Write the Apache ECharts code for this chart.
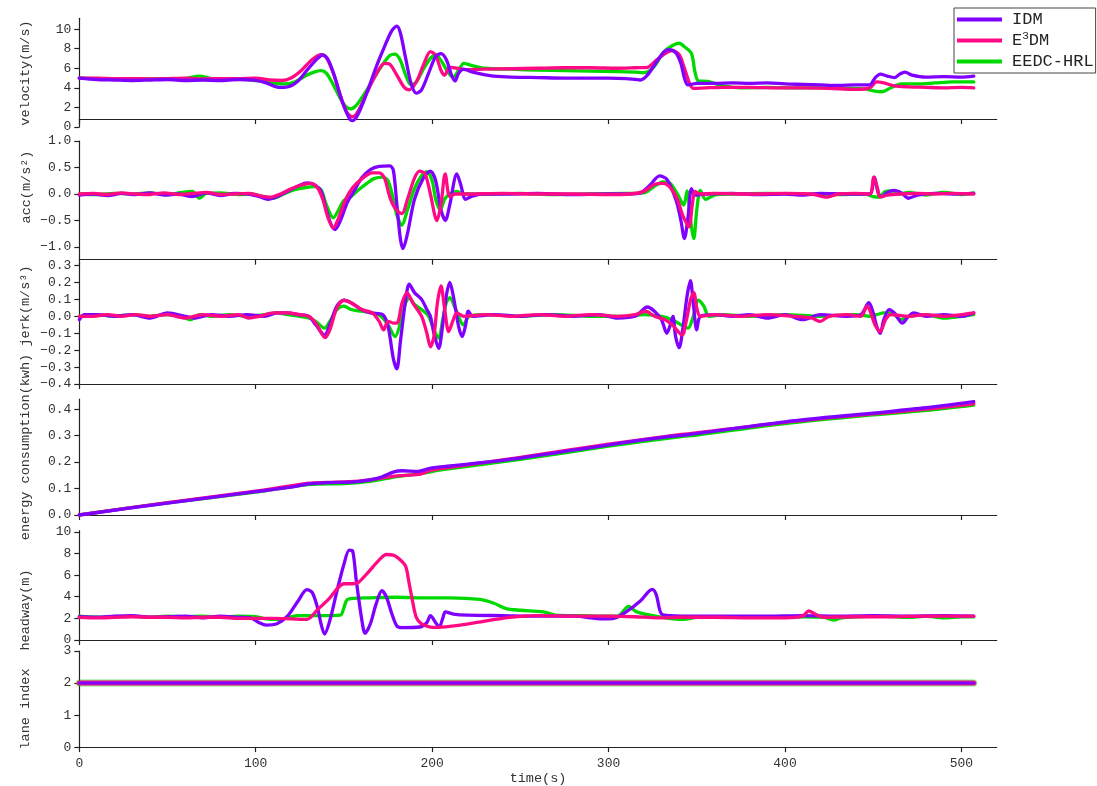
<!DOCTYPE html>
<html>
<head>
<meta charset="utf-8">
<script src="https://cdn.jsdelivr.net/npm/echarts@6/dist/echarts.min.js"></script>
<style>
  html, body { margin: 0; padding: 0; background: #fff; overflow: hidden; }
  #chart { width: 1097px; height: 786px; }
</style>
</head>
<body>
<div id="chart"></div>
<script>
// ---- series names ----
const seriesNames = ['IDM', 'E3DM', 'EEDC-HRL'];

// ---- velocity (m/s): [time, value] ----
const velIDM = [[0,5.0],[10,4.85],[20,4.8],[30,4.75],[40,4.8],[50,4.85],[60,4.75],[70,4.8],[80,4.75],[90,4.85],[100,4.75],[106,4.5],[113,4.05],[118,4.1],[124,4.7],[130,6.0],[135,7.0],[138,7.35],[141,6.9],[145,5.0],[149,2.6],[153,0.9],[155,0.65],[158,1.3],[163,3.5],[168,6.0],[173,8.2],[177,9.8],[180,10.3],[182,9.6],[185,7.0],[188,4.5],[191,3.45],[194,3.8],[198,5.5],[202,7.2],[205,7.5],[208,6.9],[211,5.3],[213,4.7],[215,5.5],[218,5.9],[222,5.65],[228,5.4],[235,5.2],[245,5.1],[260,5.05],[275,5.0],[290,5.0],[300,5.0],[310,4.95],[318,4.8],[322,5.3],[327,6.6],[331,7.6],[334,7.9],[338,7.6],[341,6.5],[343,5.0],[345,4.3],[350,4.45],[360,4.45],[370,4.5],[380,4.45],[390,4.5],[400,4.4],[410,4.35],[420,4.3],[430,4.25],[440,4.3],[448,4.3],[451,5.0],[454,5.4],[458,5.2],[462,5.05],[465,5.4],[468,5.6],[472,5.3],[480,5.1],[490,5.15],[500,5.1],[507,5.2]];
const velE3DM = [[0,5.0],[10,5.0],[20,4.95],[30,4.95],[40,4.9],[50,4.95],[60,5.0],[70,4.9],[80,4.95],[90,4.95],[100,5.0],[108,4.8],[115,4.75],[120,5.0],[126,5.8],[132,6.9],[137,7.4],[140,7.1],[144,5.5],[148,3.2],[152,1.4],[155,1.05],[158,1.6],[163,3.5],[168,5.3],[173,6.5],[176,6.4],[180,5.3],[184,4.1],[187,3.8],[191,4.6],[195,6.3],[199,7.7],[202,7.3],[205,5.8],[207,5.3],[210,6.1],[214,6.0],[220,5.85],[230,5.9],[245,5.95],[260,6.0],[275,6.05],[290,6.05],[305,6.0],[315,6.05],[322,6.1],[327,6.8],[332,7.5],[336,7.8],[340,7.4],[343,6.0],[346,4.4],[348,3.95],[355,4.0],[365,4.05],[380,4.05],[395,4.0],[410,4.0],[425,3.95],[440,3.85],[448,4.0],[452,4.6],[456,4.5],[462,4.2],[470,4.1],[480,4.05],[490,4.0],[500,4.05],[507,4.0]];
const velHRL = [[0,5.0],[10,4.95],[20,4.9],[30,4.95],[40,4.9],[50,4.9],[60,4.95],[68,5.2],[75,4.95],[85,4.9],[95,4.85],[102,4.7],[110,4.45],[116,4.4],[122,4.6],[128,5.2],[133,5.6],[137,5.75],[140,5.5],[144,4.3],[148,2.9],[151,2.1],[154,1.85],[157,2.2],[162,3.5],[167,5.0],[172,6.4],[176,7.3],[179,7.45],[182,6.8],[185,5.3],[188,4.3],[191,4.6],[195,5.9],[199,7.0],[202,7.35],[205,6.8],[209,5.6],[212,5.1],[215,5.8],[218,6.5],[222,6.3],[230,6.0],[245,5.9],[260,5.8],[275,5.75],[290,5.7],[305,5.65],[315,5.6],[320,5.55],[326,6.2],[331,7.6],[336,8.3],[340,8.55],[343,8.2],[347,7.5],[349,5.6],[351,4.7],[356,4.65],[365,4.2],[375,4.0],[390,4.05],[405,4.0],[420,4.0],[435,3.95],[445,3.9],[450,3.7],[455,3.6],[460,4.0],[466,4.4],[475,4.4],[485,4.5],[495,4.6],[507,4.6]];

// ---- acceleration (m/s^2) ----
const accIDM = [[0,-0.02],[8,0.0],[16,-0.03],[24,0.01],[32,-0.01],[40,0.02],[48,-0.02],[56,0.0],[64,-0.05],[72,0.02],[80,-0.03],[88,0.01],[96,0.0],[102,-0.05],[107,-0.1],[112,-0.05],[118,0.05],[124,0.15],[129,0.21],[133,0.18],[137,0.05],[140,-0.3],[143,-0.6],[145,-0.67],[148,-0.5],[152,-0.15],[156,0.07],[160,0.3],[165,0.46],[170,0.52],[176,0.53],[178,0.45],[180,-0.2],[182,-0.85],[183.5,-1.03],[186,-0.75],[190,-0.1],[195,0.3],[199,0.43],[202,0.25],[205,-0.3],[207.5,-0.5],[210,-0.2],[214,0.38],[216,0.2],[219,-0.1],[222,-0.05],[228,0.0],[240,0.0],[260,0.01],[280,-0.01],[300,0.0],[312,0.0],[318,0.02],[323,0.15],[329,0.34],[333,0.28],[337,0.0],[339,-0.2],[341,-0.5],[343,-0.84],[345,-0.45],[347,0.1],[349,-0.02],[355,0.0],[370,0.01],[385,-0.01],[400,0.0],[410,-0.02],[420,0.01],[435,0.0],[448,0.0],[450.5,0.32],[453,0.0],[455,-0.05],[458,0.03],[462,0.07],[466,0.02],[470,-0.08],[475,-0.02],[485,0.01],[495,0.0],[507,0.01]];
const accE3DM = [[0,0.0],[8,0.01],[16,-0.01],[24,0.02],[32,0.0],[40,-0.01],[48,0.02],[56,-0.01],[64,0.01],[72,0.03],[80,-0.01],[88,0.0],[96,0.01],[102,-0.03],[108,-0.06],[114,0.0],[120,0.1],[126,0.17],[131,0.2],[135,0.12],[138,-0.1],[141,-0.45],[144,-0.64],[147,-0.45],[151,-0.1],[155,0.12],[160,0.28],[166,0.4],[170,0.4],[173,0.3],[176,-0.06],[179,-0.27],[182.8,-0.37],[186,-0.1],[190,0.3],[193,0.43],[196,0.38],[199,0.0],[202.7,-0.5],[205,-0.2],[207.4,0.38],[210,-0.05],[213,0.0],[220,0.0],[240,0.01],[260,0.0],[280,0.0],[300,-0.01],[312,0.0],[320,0.05],[326,0.18],[331,0.2],[335,0.12],[339,-0.1],[342,-0.4],[345.5,-0.62],[347.5,-0.2],[349,0.05],[352,0.0],[360,0.01],[380,0.0],[400,0.01],[415,0.0],[424,-0.06],[430,0.0],[440,0.01],[448,0.0],[450.4,0.32],[452.5,0.1],[454,-0.06],[458,-0.02],[465,0.0],[475,0.01],[485,0.0],[495,0.01],[507,0.0]];
const accHRL = [[0,0.0],[10,-0.01],[20,0.01],[30,0.0],[40,0.02],[50,-0.01],[58,0.03],[64,0.05],[68,-0.08],[72,0.01],[80,0.02],[90,-0.01],[98,0.0],[104,-0.05],[110,-0.08],[116,0.0],[122,0.08],[128,0.12],[133,0.14],[137,0.08],[140,-0.2],[144,-0.45],[147,-0.3],[150,-0.12],[154,-0.05],[158,0.07],[163,0.2],[167,0.29],[172,0.32],[175,0.25],[178,-0.1],[180,-0.4],[182.8,-0.59],[186,-0.3],[190,0.1],[194,0.35],[197,0.42],[200,0.25],[202,-0.1],[204.6,-0.3],[207,-0.1],[210,0.0],[214,0.05],[218,0.0],[230,0.0],[250,0.01],[270,-0.01],[290,0.0],[310,0.01],[320,0.02],[325,0.12],[331,0.23],[335,0.2],[339,0.0],[342.6,-0.21],[344.5,0.06],[346.5,-0.5],[348.3,-0.84],[350,-0.3],[352,0.07],[355,-0.1],[360,-0.02],[370,0.0],[390,0.01],[410,0.0],[430,-0.01],[445,0.0],[450,-0.05],[453,-0.06],[457,0.05],[461,0.06],[465,0.0],[470,0.03],[480,-0.02],[490,0.03],[500,-0.01],[507,0.02]];

// ---- jerk (m/s^3) ----
const jerkIDM = [[0,-0.02],[3,0.01],[10,0.01],[20,0.0],[30,0.01],[40,-0.01],[50,0.02],[60,0.0],[65,-0.01],[75,0.01],[85,0.0],[95,0.01],[105,0.0],[112,0.02],[118,0.02],[124,0.01],[130,0.0],[134,-0.05],[139,-0.11],[142,-0.05],[146,0.06],[150,0.095],[154,0.08],[160,0.04],[165,0.02],[172,0.01],[175,-0.06],[178,-0.25],[180,-0.31],[182,-0.15],[185,0.1],[187,0.19],[190,0.14],[194,0.1],[197,0.04],[199,0.0],[201,-0.1],[203.7,-0.19],[206,-0.05],[208,0.12],[210,0.2],[212,0.12],[215,-0.06],[217,-0.12],[219,-0.05],[220.5,0.03],[223,0.0],[235,0.01],[250,0.0],[265,0.01],[280,0.0],[295,0.01],[305,-0.01],[315,0.0],[322,0.055],[326,0.03],[330,-0.02],[333,-0.1],[335,-0.05],[336.5,0.0],[338,-0.12],[340,-0.185],[342,-0.08],[344.5,0.12],[346.4,0.21],[348,0.08],[350,-0.08],[352,0.0],[360,0.01],[370,0.0],[380,0.01],[390,-0.01],[400,0.01],[410,-0.02],[420,0.01],[435,0.0],[443,0.01],[447.5,0.08],[450,0.02],[452,-0.06],[454,-0.1],[456,-0.02],[459,0.04],[462,0.02],[466.5,-0.04],[470,0.0],[473,0.02],[480,0.0],[490,0.01],[500,0.0],[507,0.02]];
const jerkE3DM = [[0,0.0],[8,0.0],[16,0.01],[24,0.0],[32,0.01],[40,0.0],[50,0.01],[60,-0.01],[70,0.01],[80,0.0],[90,0.01],[96,-0.01],[102,0.0],[110,0.02],[118,0.02],[125,0.01],[130,0.0],[134,-0.04],[139.4,-0.126],[142,-0.08],[146,0.05],[150,0.095],[154,0.08],[160,0.04],[166,0.02],[170,-0.03],[172.5,-0.08],[175,-0.03],[178,-0.04],[180,-0.04],[183,0.08],[185.7,0.14],[189,0.08],[194,0.0],[197,-0.1],[199,-0.18],[201,-0.12],[203,0.08],[205,0.18],[207,0.05],[209.4,-0.09],[212,-0.02],[214,0.02],[218,0.0],[230,0.01],[245,0.0],[260,0.01],[275,0.0],[290,0.01],[305,0.0],[315,0.01],[321,0.03],[326,0.0],[332,-0.02],[336,-0.05],[341.7,-0.11],[344,-0.03],[346.5,0.1],[348.3,0.14],[350,0.05],[352,0.0],[360,0.01],[375,0.0],[390,0.01],[405,0.0],[415,-0.01],[420,-0.03],[425,0.0],[435,0.01],[443,0.0],[446.6,0.06],[449,0.01],[451,-0.05],[454,-0.09],[457,-0.02],[460,0.01],[470,0.0],[480,0.01],[490,0.0],[500,0.01],[507,0.02]];
const jerkHRL = [[0,0.0],[10,0.01],[20,0.0],[30,0.01],[40,0.0],[50,0.01],[58,0.0],[63,-0.02],[68,0.01],[75,0.0],[85,0.01],[95,0.0],[105,0.01],[112,0.02],[118,0.01],[125,0.0],[130,-0.01],[134,-0.03],[139,-0.07],[142,-0.03],[146,0.04],[150,0.06],[154,0.04],[160,0.03],[166,0.02],[171,0.0],[175,-0.05],[179,-0.12],[182,-0.04],[185,0.08],[187,0.11],[190,0.07],[194,0.04],[198,0.0],[201,-0.08],[203.7,-0.13],[206,-0.02],[208,0.08],[210,0.11],[213,0.05],[217.8,-0.05],[221,0.0],[230,0.01],[250,0.0],[270,0.01],[290,0.0],[310,0.0],[320,0.01],[330,0.0],[336,-0.02],[341,-0.05],[345,-0.07],[348,0.0],[351,0.095],[354,0.06],[357,0.0],[365,0.01],[380,0.0],[400,0.01],[420,0.0],[440,0.01],[448,0.0],[452,0.01],[456,0.02],[460,0.02],[466,-0.02],[470,0.0],[480,0.01],[490,-0.01],[500,0.0],[507,0.01]];

// ---- energy consumption (kwh) ----
const energyIDM = [[0,0],[50,0.045],[100,0.088],[120,0.105],[130,0.118],[140,0.122],[158,0.126],[170,0.14],[178,0.162],[183,0.167],[192,0.165],[200,0.178],[210,0.185],[250,0.215],[300,0.265],[335,0.297],[345,0.303],[400,0.352],[450,0.385],[480,0.405],[507,0.428]];
const energyE3DM = [[0,0],[50,0.047],[100,0.09],[130,0.12],[140,0.123],[158,0.128],[170,0.138],[180,0.148],[192,0.153],[200,0.17],[210,0.18],[250,0.218],[300,0.268],[340,0.303],[346,0.307],[400,0.35],[450,0.382],[480,0.4],[507,0.42]];
const energyHRL = [[0,0],[50,0.046],[100,0.086],[130,0.115],[150,0.119],[165,0.127],[180,0.145],[195,0.158],[205,0.17],[250,0.21],[300,0.26],[340,0.295],[350,0.302],[400,0.345],[450,0.378],[480,0.395],[507,0.415]];

// ---- headway (m) ----
const headIDM = [[0,2.15],[10,2.1],[20,2.2],[30,2.25],[40,2.1],[50,2.15],[60,2.2],[70,2.05],[80,2.2],[90,2.1],[97,2.05],[102,1.6],[106,1.38],[112,1.5],[118,2.2],[124,3.6],[129,4.65],[132,4.4],[135,3.0],[137,1.5],[139,0.55],[142,1.8],[146,4.5],[150,7.0],[153,8.3],[155,8.2],[157,5.5],[160,2.0],[162,0.62],[165,1.5],[168,3.2],[171.5,4.55],[174,4.0],[177,2.5],[180,1.3],[183,1.15],[193,1.2],[197,1.6],[199,2.25],[202,1.6],[204,1.2],[206,2.0],[207.5,2.6],[212,2.4],[220,2.3],[240,2.25],[260,2.2],[280,2.2],[297,1.95],[303,2.0],[310,2.6],[318,3.6],[324.7,4.68],[327,4.2],[330,2.4],[335,2.25],[350,2.2],[370,2.2],[390,2.2],[410,2.25],[430,2.2],[450,2.25],[470,2.2],[490,2.25],[507,2.2]];
const headE3DM = [[0,2.1],[10,2.05],[20,2.1],[30,2.15],[40,2.1],[50,2.1],[60,2.05],[70,2.1],[80,2.1],[90,2.0],[100,2.0],[110,2.0],[120,1.95],[129,1.9],[135,2.8],[142,3.9],[147,4.9],[150,5.2],[155,5.2],[158,5.3],[164,6.3],[170,7.4],[174,7.9],[178,7.85],[182,7.4],[185,6.8],[187,5.2],[189,3.5],[191,2.1],[194,1.5],[199,1.2],[203,1.17],[215,1.35],[230,1.75],[244,2.1],[260,2.25],[280,2.2],[300,2.2],[315,2.15],[328,2.05],[340,2.1],[360,2.1],[380,2.05],[400,2.05],[410,2.2],[413.5,2.7],[417,2.4],[422,2.1],[440,2.15],[460,2.15],[480,2.2],[507,2.2]];
const headHRL = [[0,2.2],[10,2.1],[20,2.15],[30,2.2],[40,2.1],[50,2.2],[60,2.15],[70,2.2],[80,2.1],[90,2.2],[100,2.15],[106,1.95],[112,1.9],[118,2.05],[124,2.25],[135,2.25],[148,2.3],[150,3.0],[151.7,3.7],[155,3.85],[165,3.9],[180,3.95],[195,3.9],[210,3.9],[227,3.75],[235,3.4],[242,2.9],[250,2.75],[263,2.6],[270,2.3],[285,2.25],[300,2.2],[305,2.2],[311.4,3.1],[316,2.6],[325,2.25],[342.6,1.9],[350,2.1],[370,2.15],[390,2.1],[410,2.15],[422,2.1],[427.5,1.85],[432,2.05],[440,2.15],[455,2.2],[470,2.1],[480,2.2],[490,2.05],[500,2.15],[507,2.15]];

// ---- lane index ----
const laneIDM = [[0,2],[507,2]];
const laneE3DM = [[0,2],[507,2]];
const laneHRL = [[0,2],[507,2]];

// ---- tick values ----
const timeTicks = [0, 100, 200, 300, 400, 500];
const velTicks = [0, 2, 4, 6, 8, 10];
const accTicks = [-1.0, -0.5, 0.0, 0.5, 1.0];
const jerkTicks = [-0.4, -0.3, -0.2, -0.1, 0.0, 0.1, 0.2, 0.3];
const energyTicks = [0.0, 0.1, 0.2, 0.3, 0.4];
const headTicks = [0, 2, 4, 6, 8, 10];
const laneTicks = [0, 1, 2, 3];

// ---- styling ----
const COLORS = { 'IDM': '#8000ff', 'E3DM': '#ff0a84', 'EEDC-HRL': '#00d900' };
const FONT = "'Liberation Mono', 'DejaVu Sans Mono', monospace";
const AXIS_COLOR = '#222';
const TEXT_COLOR = '#333';
const PLOT_LEFT = 79.3;
const PLOT_RIGHT = 1097 - 996.7;
const CHART_H = 786;

// panel layout: top / bottom edge in px, y range
const panels = [
  { key: 'vel',    top: 18.3,  bottom: 127,   min: 0,     max: 11.1,  ticks: velTicks,    dec: 0, xline: false },
  { key: 'acc',    top: 141,   bottom: 259.7, min: -1.24, max: 1.0,   ticks: accTicks,    dec: 1, xline: true },
  { key: 'jerk',   top: 263,   bottom: 384,   min: -0.4,  max: 0.315, ticks: jerkTicks,   dec: 1, xline: true },
  { key: 'energy', top: 399,   bottom: 515,   min: 0,     max: 0.438, ticks: energyTicks, dec: 1, xline: true },
  { key: 'head',   top: 530.7, bottom: 640,   min: 0,     max: 10.1,  ticks: headTicks,   dec: 0, xline: true },
  { key: 'lane',   top: 651,   bottom: 750.7, min: 0,     max: 3,     ticks: laneTicks,   dec: 0, xline: true }
];

const panelData = {
  vel:    { 'IDM': velIDM,    'E3DM': velE3DM,    'EEDC-HRL': velHRL,    order: ['EEDC-HRL', 'E3DM', 'IDM'] },
  acc:    { 'IDM': accIDM,    'E3DM': accE3DM,    'EEDC-HRL': accHRL,    order: ['EEDC-HRL', 'IDM', 'E3DM'] },
  jerk:   { 'IDM': jerkIDM,   'E3DM': jerkE3DM,   'EEDC-HRL': jerkHRL,   order: ['EEDC-HRL', 'IDM', 'E3DM'] },
  energy: { 'IDM': energyIDM, 'E3DM': energyE3DM, 'EEDC-HRL': energyHRL, order: ['EEDC-HRL', 'E3DM', 'IDM'] },
  head:   { 'IDM': headIDM,   'E3DM': headE3DM,   'EEDC-HRL': headHRL,   order: ['EEDC-HRL', 'IDM', 'E3DM'] },
  lane:   { 'IDM': laneIDM,   'E3DM': laneE3DM,   'EEDC-HRL': laneHRL,   order: ['EEDC-HRL', 'E3DM', 'IDM'] }
};

const fmt = (v, dec) => {
  const s = Math.abs(v).toFixed(dec);
  return (v < -1e-9 ? '\u2212' : '') + s;
};

const grids = [], xAxes = [], yAxes = [], series = [];

panels.forEach((p, i) => {
  const isLast = i === panels.length - 1;
  grids.push({ left: PLOT_LEFT, right: PLOT_RIGHT, top: p.top, bottom: CHART_H - p.bottom, containLabel: false });
  xAxes.push({
    type: 'value', gridIndex: i, min: 0, max: 520,
    axisLine: { show: p.xline, onZero: false, lineStyle: { color: AXIS_COLOR, width: 1.2 } },
    axisTick: { show: p.xline, customValues: timeTicks, length: 5, inside: false, lineStyle: { color: AXIS_COLOR, width: 1.2 } },
    axisLabel: {
      show: isLast, customValues: timeTicks, margin: 10,
      color: TEXT_COLOR, fontFamily: FONT, fontSize: 13
    },
    splitLine: { show: false },
    name: isLast ? 'time(s)' : '',
    nameLocation: 'middle', nameGap: 18,
    nameTextStyle: { color: TEXT_COLOR, fontFamily: FONT, fontSize: 13.5 }
  });
  yAxes.push({
    type: 'value', gridIndex: i, min: p.min, max: p.max, position: 'left',
    axisLine: { show: true, onZero: false, lineStyle: { color: AXIS_COLOR, width: 1.2 } },
    axisTick: { show: true, customValues: p.ticks, length: 5, inside: false, lineStyle: { color: AXIS_COLOR, width: 1.2 } },
    axisLabel: {
      customValues: p.ticks, margin: 8, color: TEXT_COLOR, fontFamily: FONT, fontSize: 13,
      formatter: (v) => fmt(v, p.dec)
    },
    splitLine: { show: false }
  });
  const d = panelData[p.key];
  d.order.forEach((name) => {
    const isLane = p.key === 'lane';
    let width = 3.3, opacity = 1;
    if (isLane) {
      if (name === 'EEDC-HRL') { width = 7; opacity = 0.5; }
      else if (name === 'E3DM') { width = 5; }
      else { width = 3; }
    }
    series.push({
      name, type: 'line', xAxisIndex: i, yAxisIndex: i,
      data: d[name], showSymbol: false, symbol: 'none',
      smooth: 0.3, animation: false,
      lineStyle: { color: COLORS[name], width, opacity, cap: 'round', join: 'round' },
      itemStyle: { color: COLORS[name] }
    });
  });
});

// bottom spine of the velocity panel, which sits slightly above its y=0
const spineIdx = panels.length;
grids.push({ left: PLOT_LEFT, right: PLOT_RIGHT, top: 100, bottom: CHART_H - 119 });
xAxes.push({
  type: 'value', gridIndex: spineIdx, min: 0, max: 520,
  axisLine: { show: true, onZero: false, lineStyle: { color: AXIS_COLOR, width: 1.2 } },
  axisTick: { show: true, customValues: timeTicks, length: 5, lineStyle: { color: AXIS_COLOR, width: 1.2 } },
  axisLabel: { show: false }, splitLine: { show: false }
});
yAxes.push({ type: 'value', gridIndex: spineIdx, min: 0, max: 1, show: false });

// rotated y-axis titles
const yTitles = [
  { text: 'velocity(m/s)', x: 25, y: 73 },
  { text: 'acc(m/s\u00b2)', x: 26, y: 187 },
  { text: 'jerk(m/s\u00b3)', x: 25, y: 306 },
  { text: 'energy consumption(kwh)', x: 25, y: 447 },
  { text: 'headway(m)', x: 25, y: 610 },
  { text: 'lane index', x: 25, y: 709 }
];

const chart = echarts.init(document.getElementById('chart'), null, { renderer: 'canvas', width: 1097, height: CHART_H });
chart.setOption({
  backgroundColor: '#fff',
  animation: false,
  grid: grids,
  xAxis: xAxes,
  yAxis: yAxes,
  series,
  legend: {
    data: seriesNames,
    orient: 'vertical',
    left: 954, top: 8,
    padding: [2, 2, 2, 3],
    itemGap: 2,
    itemWidth: 45, itemHeight: 4,
    icon: 'rect',
    backgroundColor: '#fff',
    borderColor: '#444', borderWidth: 1, borderRadius: 0,
    formatter: (name) => name === 'E3DM' ? '{t|E}{s|3}{t|DM}' : '{t|' + name + '}',
    textStyle: {
      color: '#222', fontFamily: FONT, fontSize: 17, lineHeight: 19, padding: [0, 0, 0, 5],
      rich: {
        t: { fontFamily: FONT, fontSize: 17, lineHeight: 19, color: '#222' },
        s: { fontFamily: FONT, fontSize: 11, lineHeight: 19, verticalAlign: 'top', color: '#222', padding: [0, 0, 6, 0] }
      }
    }
  },
  graphic: yTitles.map((t) => ({
    type: 'text', x: t.x, y: t.y, rotation: Math.PI / 2, silent: true,
    style: {
      text: t.text, align: 'center', verticalAlign: 'middle',
      fill: TEXT_COLOR, font: '13.5px ' + FONT
    }
  }))
});
</script>
</body>
</html>
